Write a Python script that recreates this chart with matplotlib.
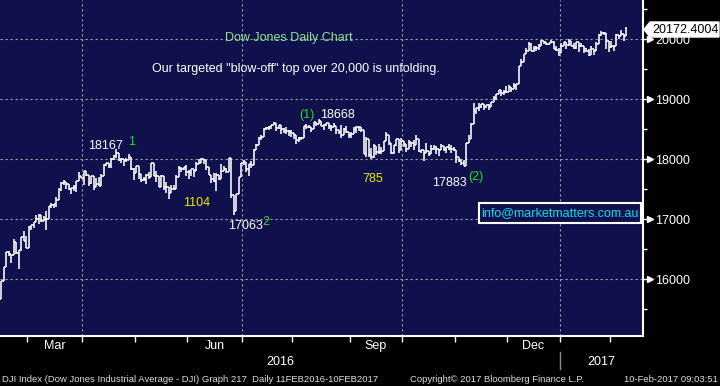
import numpy as np
import pandas as pd
import matplotlib
matplotlib.use('Agg')
import matplotlib.pyplot as plt
from matplotlib.collections import LineCollection
from matplotlib.patches import Rectangle, Polygon
import matplotlib.transforms as mtransforms

plt.rcParams['font.family'] = ['Liberation Sans', 'DejaVu Sans']

# trading days 11 Feb 2016 - 9 Feb 2017 (NYSE holidays removed)
holidays = ['2016-02-15', '2016-03-25', '2016-05-30', '2016-07-04', '2016-09-05',
            '2016-11-24', '2016-12-26', '2017-01-02', '2017-01-16']
dates = pd.bdate_range('2016-02-11', '2017-02-09')
dates = dates[~dates.isin(pd.to_datetime(holidays))]

# daily closes, highs, lows (month by month)
closes = [
    15660, 15974, 16196, 16454, 16414, 16392, 16620, 16431, 16485, 16698, 16640, 16517,
    16865, 16899, 16943, 17006, 17073, 16964, 17000, 16995, 17213, 17229, 17251, 17325,
    17481, 17602, 17623, 17583, 17502, 17516, 17535, 17634, 17716, 17685,
    17792, 17737, 17603, 17716, 17541, 17577, 17556, 17721, 17908, 17926, 17897, 18004,
    18053, 18096, 17983, 18003, 17977, 17991, 18041, 17831, 17774,
    17891, 17750, 17651, 17660, 17740, 17705, 17928, 17711, 17720, 17535, 17711, 17530,
    17526, 17435, 17501, 17493, 17706, 17851, 17828, 17873, 17787,
    17790, 17838, 17807, 17920, 17938, 18005, 17985, 17865, 17733, 17675, 17640, 17733,
    17675, 17805, 17830, 17780, 18011, 17400, 17140, 17410, 17695, 17930,
    17949, 17841, 17919, 17896, 18147, 18227, 18347, 18373, 18507, 18517, 18534, 18559,
    18595, 18518, 18571, 18494, 18473, 18472, 18456, 18432,
    18404, 18314, 18355, 18352, 18544, 18529, 18533, 18495, 18613, 18576, 18637, 18553,
    18574, 18598, 18553, 18530, 18547, 18482, 18448, 18395, 18503, 18454, 18401,
    18419, 18492, 18539, 18526, 18480, 18085, 18326, 18067, 18034, 18213, 18124, 18120,
    18130, 18294, 18392, 18261, 18094, 18228, 18339, 18143, 18308,
    18254, 18168, 18281, 18269, 18240, 18329, 18129, 18144, 18099, 18138, 18087, 18162,
    18203, 18162, 18146, 18223, 18169, 18199, 18170, 18161, 18142,
    18037, 17960, 17931, 17888, 18260, 18333, 18590, 18808, 18848, 18869, 18924, 18868,
    18904, 18868, 18956, 19024, 19083, 19153, 19098, 19122, 19124,
    19192, 19171, 19216, 19252, 19549, 19615, 19757, 19796, 19911, 19793, 19853, 19843,
    19884, 19975, 19942, 19919, 19934, 19946, 19833, 19819, 19763,
    19882, 19943, 19900, 19964, 19887, 19856, 19954, 19891, 19886, 19826, 19804, 19732,
    19827, 19799, 19913, 20069, 20100, 20094, 19971, 19864,
    19891, 19885, 20071, 20052, 20090, 20054, 20172.4,
]
highs = [
    16006, 15974, 16204, 16454, 16466, 16414, 16664, 16620, 16485, 16698, 16795, 16711,
    16880, 16900, 16944, 17063, 17090, 17072, 17048, 17130, 17220, 17263, 17251, 17374,
    17511, 17620, 17651, 17623, 17582, 17516, 17560, 17640, 17790, 17722,
    17793, 17792, 17737, 17719, 17716, 17676, 17698, 17745, 17920, 17938, 17927, 18009,
    18075, 18168, 18096, 18023, 18003, 18012, 18084, 18041, 17848,
    17891, 17891, 17750, 17705, 17744, 17780, 17934, 17928, 17802, 17720, 17740, 17715,
    17620, 17526, 17571, 17560, 17736, 17891, 17860, 17873, 17899,
    17810, 17838, 17838, 17950, 18003, 18016, 18005, 17985, 17865, 17733, 17762, 17762,
    17733, 17920, 17878, 17844, 18011, 17946, 17400, 17410, 17704, 17930,
    17977, 17927, 17924, 17974, 18162, 18248, 18371, 18402, 18524, 18537, 18552, 18565,
    18622, 18595, 18574, 18571, 18514, 18528, 18476, 18479,
    18432, 18404, 18369, 18370, 18544, 18581, 18559, 18541, 18615, 18613, 18668, 18637,
    18590, 18603, 18598, 18560, 18604, 18547, 18486, 18560, 18520, 18549, 18451,
    18444, 18541, 18546, 18538, 18526, 18480, 18359, 18326, 18176, 18245, 18213, 18244,
    18208, 18294, 18450, 18392, 18261, 18237, 18339, 18339, 18350,
    18308, 18254, 18324, 18280, 18319, 18400, 18329, 18152, 18144, 18262, 18138, 18238,
    18231, 18211, 18162, 18253, 18223, 18204, 18253, 18236, 18193,
    18155, 18037, 18000, 17990, 18260, 18400, 18600, 18935, 18848, 18934, 18925, 18900,
    18904, 18916, 18956, 19043, 19084, 19153, 19141, 19145, 19225,
    19226, 19196, 19275, 19252, 19549, 19664, 19757, 19843, 19953, 19930, 19889, 19883,
    19917, 19987, 19974, 19949, 19934, 19981, 19964, 19881, 19853,
    19939, 19956, 19943, 19999, 19964, 19930, 19954, 19954, 19929, 19886, 19848, 19834,
    19880, 19833, 19950, 20082, 20126, 20115, 20094, 19921,
    19968, 19887, 20080, 20071, 20155, 20090, 20207,
]
lows = [
    15503, 15691, 15980, 16196, 16388, 16260, 16393, 16416, 16165, 16475, 16640, 16510,
    16517, 16821, 16852, 16944, 16921, 16950, 16964, 16822, 17000, 17184, 17183, 17202,
    17325, 17470, 17568, 17505, 17490, 17420, 17466, 17450, 17634, 17677,
    17568, 17709, 17556, 17577, 17485, 17541, 17545, 17556, 17721, 17881, 17856, 17855,
    17979, 18020, 17965, 17931, 17885, 17948, 17990, 17819, 17652,
    17773, 17670, 17625, 17627, 17584, 17669, 17705, 17711, 17616, 17535, 17535, 17484,
    17431, 17332, 17435, 17476, 17493, 17706, 17784, 17810, 17713,
    17666, 17714, 17699, 17807, 17920, 17938, 17915, 17812, 17733, 17595, 17617, 17471,
    17643, 17675, 17799, 17770, 17780, 17356, 17063, 17140, 17410, 17711,
    17894, 17783, 17714, 17858, 17896, 18147, 18227, 18316, 18373, 18476, 18484, 18507,
    18559, 18460, 18503, 18421, 18431, 18419, 18380, 18367,
    18326, 18255, 18278, 18312, 18352, 18507, 18519, 18458, 18495, 18548, 18576, 18552,
    18480, 18550, 18495, 18461, 18530, 18413, 18416, 18350, 18395, 18440, 18348,
    18355, 18419, 18430, 18464, 18445, 18085, 18028, 18032, 18004, 18017, 18065, 18087,
    18088, 18130, 18294, 18235, 18087, 18081, 18223, 18092, 18143,
    18205, 18114, 18168, 18195, 18150, 18240, 18110, 18095, 17959, 18099, 18050, 18087,
    18147, 18085, 18056, 18146, 18138, 18098, 18150, 18103, 18140,
    17935, 17955, 17904, 17884, 17888, 18260, 18333, 18590, 18745, 18808, 18857, 18820,
    18848, 18823, 18868, 18963, 18990, 19083, 19046, 19072, 19097,
    19124, 19120, 19171, 19150, 19242, 19542, 19615, 19746, 19796, 19793, 19782, 19795,
    19810, 19884, 19916, 19900, 19892, 19934, 19833, 19796, 19718,
    19775, 19882, 19834, 19880, 19887, 19828, 19832, 19778, 19870, 19775, 19777, 19710,
    19732, 19727, 19799, 19913, 20058, 20072, 19832, 19784,
    19847, 19792, 19885, 20006, 20052, 19969, 20054,
]
prev_close = 16015          # close of 10 Feb 2016, open of first bar
last_price = 20172.4004

levels = [16000, 17000, 18000, 19000, 20000]
month_names = {3: 'Mar', 6: 'Jun', 9: 'Sep', 12: 'Dec'}

navy = '#10104c'
green = '#22dd22'
yellow = '#e8e800'

W, H = 720, 386
fig = plt.figure(figsize=(W / 100, H / 100), dpi=100, facecolor='black')
ax = fig.add_axes([0, 50 / H, 643 / W, 336 / H])
ax.set_facecolor(navy)

def px(x, y):
    # pixel from top-left -> figure fraction
    return x / W, 1 - y / H

# OHLC bars
c = np.array(closes, dtype=float)
o = np.concatenate([[prev_close], c[:-1]])
hi = np.maximum.reduce([np.array(highs, float), o, c])
lo = np.minimum.reduce([np.array(lows, float), o, c])
idx = np.arange(len(c))
segs = []
for i in idx:
    segs.append([(i, lo[i]), (i, hi[i])])
    segs.append([(i - 0.5, o[i]), (i, o[i])])
    segs.append([(i, c[i]), (i + 0.5, c[i])])
ax.add_collection(LineCollection(segs, colors='white', linewidths=1.15, capstyle='butt', zorder=3))

ax.set_xlim(0.6, 0.6 + 643 / 2.5)
ax.set_ylim(15050, 20650)

# month boundaries (tick between last bar of month and first of next)
first_days = pd.Series(idx, index=dates).groupby([dates.year, dates.month]).first()
month_pos = {k: v - 0.5 for k, v in first_days.items() if v > 0}

grid_kw = dict(color='#a0a0a0', lw=0.8, ls=(0, (2, 2.5)), zorder=1)
for lv in levels:
    ax.axhline(lv, **grid_kw)
for (yr, mo), pos in month_pos.items():
    if mo in (1, 4, 7, 10):
        ax.axvline(pos, **grid_kw)

for s in ['top', 'left']:
    ax.spines[s].set_visible(False)
for s in ['bottom', 'right']:
    ax.spines[s].set_color('white')
    ax.spines[s].set_linewidth(1.5)

# x axis
ax.set_xticks(list(month_pos.values()))
ax.set_xticklabels([])
ax.tick_params(axis='x', colors='white', direction='out', length=4, width=1)
trans = mtransforms.blended_transform_factory(ax.transData, fig.transFigure)
keys = list(month_pos.keys())
for k_i, (yr, mo) in enumerate(keys):
    if mo in month_names:
        mid = (month_pos[keys[k_i]] + month_pos[keys[k_i + 1]]) / 2
        ax.text(mid, 1 - 346 / H, month_names[mo], transform=trans, color='white',
                fontsize=9, ha='center', va='center')
year_pos = month_pos[(2017, 1)]
xl = ax.get_xlim()
ax.text((xl[0] + year_pos) / 2, 1 - 362 / H, '2016', transform=trans, color='white',
        fontsize=9, ha='center', va='center')
ax.text((year_pos + xl[1]) / 2, 1 - 362 / H, '2017', transform=trans, color='white',
        fontsize=9, ha='center', va='center')
ax.plot([year_pos, year_pos], [1 - 352 / H, 1 - 369 / H], transform=trans, color='#8a8a8a',
        lw=1, clip_on=False)

# y axis on the right
ax.yaxis.tick_right()
ax.set_yticks(levels)
ax.set_yticklabels([str(v) for v in levels])
ax.set_yticks(np.arange(15500, 20600, 1000), minor=True)
ax.tick_params(axis='y', which='major', colors='white', direction='out', length=5, width=1,
               pad=4, labelsize=9)
ax.tick_params(axis='y', which='minor', colors='white', direction='out', length=3, width=1)
ytrans = mtransforms.blended_transform_factory(ax.transAxes, ax.transData)
ax.plot([1.011] * len(levels), levels, transform=ytrans, ls='none', marker='>',
        ms=4, color='white', clip_on=False)

# last price flag
flag = Polygon([px(644, 29.5), px(650, 22), px(719, 22), px(719, 37), px(650, 37)],
               closed=True, transform=fig.transFigure, facecolor='white', edgecolor='white')
fig.patches.append(flag)
fig.text(*px(652, 30), '%.4f' % last_price, color='black', fontsize=9, va='center', ha='left')

# annotations
def note(x, y, s, color='white', ha='left'):
    fig.text(*px(x, y), s, color=color, fontsize=9, ha=ha, va='center')

note(289, 38, 'Dow Jones Daily Chart', color='#8ee68e', ha='center')
note(295.5, 69, 'Our targeted "blow-off" top over 20,000 is unfolding.', ha='center')
note(88, 146, '18167')
note(128, 142, '1', color=green)
note(299, 115, '(1)', color=green)
note(320, 115, '18668')
note(183, 203, '1104', color=yellow)
note(228, 226, '17063')
note(262, 222, '2', color=green)
note(362, 179, '785', color=yellow)
note(432, 183, '17883')
note(468, 177, '(2)', color=green)

x0, y0 = px(479, 223)
x1, y1 = px(641, 203)
fig.patches.append(Rectangle((x0, y0), x1 - x0, y1 - y0, transform=fig.transFigure,
                             facecolor=navy, edgecolor='white', lw=1.5, zorder=5))
fig.text(*px(560, 213), 'info@marketmatters.com.au', color='#00e0e8', fontsize=9,
         ha='center', va='center', zorder=6)

# footer
foot = dict(color='#dcdcdc', fontsize=6.8, va='center')
fig.text(*px(2, 379), 'DJI Index (Dow Jones Industrial Average - DJI) Graph 217  Daily 11FEB2016-10FEB2017', ha='left', **foot)
fig.text(*px(497, 379), 'Copyright\u00a9 2017 Bloomberg Finance L.P.', ha='center', **foot)
fig.text(*px(718, 379), '10-Feb-2017 09:03:51', ha='right', **foot)

plt.savefig('out.png', dpi=100, facecolor='black')
